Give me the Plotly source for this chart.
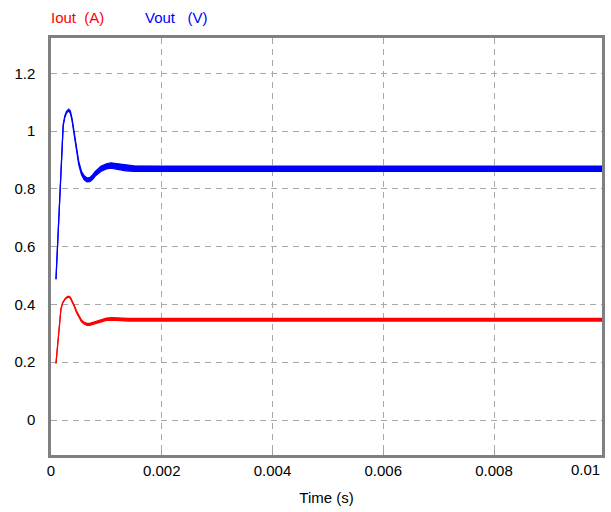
import plotly.graph_objects as go

# ---- data (time in ms) ----
t_vout_ms = [0.09, 0.12, 0.14, 0.16, 0.18, 0.20, 0.22, 0.25, 0.28, 0.32, 0.35, 0.38, 0.41,
             0.45, 0.50, 0.55, 0.60, 0.65, 0.70, 0.75, 0.80, 0.90, 1.00, 1.08, 1.20, 1.35,
             1.50, 2.0, 3.0, 4.0, 5.0, 6.0, 7.0, 8.0, 9.0, 10.0]
vout = [0.487, 0.62, 0.71, 0.80, 0.89, 0.98, 1.02, 1.05, 1.065, 1.073, 1.065, 1.04, 1.0,
        0.94, 0.89, 0.855, 0.838, 0.831, 0.832, 0.84, 0.852, 0.869, 0.878, 0.881, 0.877, 0.872,
        0.870, 0.8695, 0.8695, 0.8695, 0.8695, 0.8695, 0.8695, 0.8695, 0.8695, 0.8695]
vout_ripple = [0.001, 0.001, 0.001, 0.001, 0.001, 0.002, 0.002, 0.003, 0.003, 0.003, 0.004, 0.004, 0.005,
               0.005, 0.006, 0.006, 0.007, 0.007, 0.007, 0.008, 0.008, 0.009, 0.009, 0.009, 0.0095, 0.0095,
               0.0095, 0.0095, 0.0095, 0.0095, 0.0095, 0.0095, 0.0095, 0.0095, 0.0095, 0.0095]

t_iout_ms = [0.09, 0.12, 0.15, 0.18, 0.21, 0.25, 0.29, 0.32, 0.35, 0.38, 0.42, 0.46, 0.50,
             0.55, 0.60, 0.65, 0.70, 0.75, 0.80, 0.90, 1.00, 1.10, 1.20, 1.40, 2.0, 3.0,
             4.0, 5.0, 6.0, 7.0, 8.0, 9.0, 10.0]
iout = [0.196, 0.27, 0.34, 0.385, 0.405, 0.418, 0.425, 0.427, 0.423, 0.412, 0.395, 0.375, 0.358,
        0.343, 0.335, 0.331, 0.331, 0.334, 0.338, 0.345, 0.349, 0.350, 0.349, 0.347, 0.347, 0.347,
        0.347, 0.347, 0.347, 0.347, 0.347, 0.347, 0.347]
iout_ripple = [0.0005, 0.0005, 0.0005, 0.001, 0.001, 0.0015, 0.0015, 0.002, 0.002, 0.002, 0.0025, 0.003, 0.003,
               0.003, 0.003, 0.0035, 0.0035, 0.0035, 0.004, 0.004, 0.004, 0.0045, 0.0045, 0.0045, 0.0045, 0.0045,
               0.0045, 0.0045, 0.0045, 0.0045, 0.0045, 0.0045, 0.0045]

x_tickvals = [0, 0.002, 0.004, 0.006, 0.008]
x_ticktext = ["0", "0.002", "0.004", "0.006", "0.008"]
last_x_label = "0.01"
y_tickvals = [0, 0.2, 0.4, 0.6, 0.8, 1.0, 1.2]
y_ticktext = ["0", "0.2", "0.4", "0.6", "0.8", "1", "1.2"]

BLUE = "#0000ff"
RED = "#ff0000"
FONT = "Liberation Sans, Arial, sans-serif"
FS = 15

fig = go.Figure()


def add_band(t_ms, vals, rip, color):
    ts = [t / 1000.0 for t in t_ms]
    lo = [v - r for v, r in zip(vals, rip)]
    hi = [v + r for v, r in zip(vals, rip)]
    fig.add_trace(go.Scatter(x=ts, y=lo, mode="lines", line=dict(color=color, width=1.2),
                             showlegend=False, hoverinfo="skip"))
    fig.add_trace(go.Scatter(x=ts, y=hi, mode="lines", line=dict(color=color, width=1.2),
                             fill="tonexty", fillcolor=color, showlegend=False))


add_band(t_iout_ms, iout, iout_ripple, RED)
add_band(t_vout_ms, vout, vout_ripple, BLUE)

fig.update_layout(
    width=611, height=512,
    margin=dict(l=51, r=6, t=38, b=57),
    paper_bgcolor="white", plot_bgcolor="white",
    font=dict(family=FONT, size=FS, color="#000000"),
    showlegend=False,
    xaxis=dict(
        range=[0, 0.00995], tickvals=x_tickvals, ticktext=x_ticktext,
        showgrid=True, gridcolor="#a8a8a8", gridwidth=1, griddash="6px,5px",
        zeroline=False, showline=True, linecolor="#808080", linewidth=2.5, mirror=True,
        ticks="inside", ticklen=5, tickcolor="#a0a0a0", tickwidth=1,
        title=dict(text="Time (s)", standoff=15, font=dict(size=FS)),
        tickfont=dict(size=FS),
    ),
    yaxis=dict(
        range=[-0.121, 1.322], tickvals=y_tickvals, ticktext=y_ticktext,
        showgrid=True, gridcolor="#a8a8a8", gridwidth=1, griddash="6px,5px",
        zeroline=False, showline=True, linecolor="#808080", linewidth=2.5, mirror=True,
        ticks="", ticklabelstandoff=10, tickfont=dict(size=FS),
    ),
    annotations=[
        dict(text=last_x_label, xref="paper", yref="paper", x=1.0, y=0, xanchor="right",
             yanchor="top", yshift=-4, xshift=0, showarrow=False, font=dict(size=FS)),
        dict(text="Iout  (A)", xref="paper", yref="paper", x=0.0, y=1, xanchor="left",
             yanchor="middle", yshift=21, xshift=-2, showarrow=False, font=dict(size=FS, color=RED)),
        dict(text="Vout   (V)", xref="paper", yref="paper", x=(146 - 51) / 554, y=1, xanchor="left",
             yanchor="middle", yshift=21, xshift=-2, showarrow=False, font=dict(size=FS, color=BLUE)),
    ],
)

fig.write_html("out.html", config={"displayModeBar": False},
               post_script="document.body.style.margin='0';document.body.style.padding='0';")
